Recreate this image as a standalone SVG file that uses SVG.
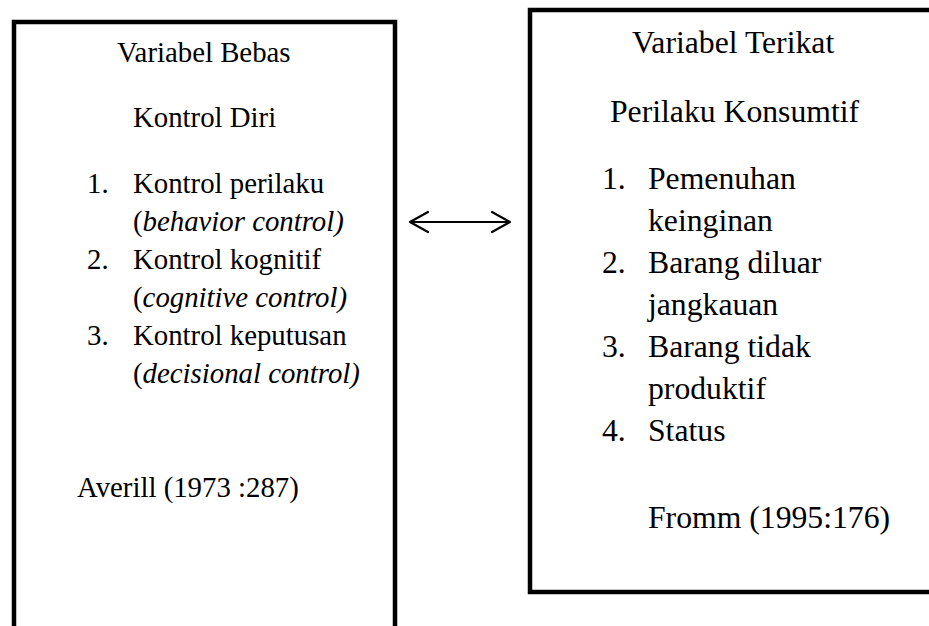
<svg xmlns="http://www.w3.org/2000/svg" width="929" height="626" viewBox="0 0 929 626">
<style>
.box{fill:#fff;stroke:#000;stroke-width:4.5}
.l{font-family:"Liberation Serif","Times New Roman",serif;font-size:28.8px;fill:#000}
.r{font-family:"Liberation Serif","Times New Roman",serif;font-size:31.7px;fill:#000}
.i{font-style:italic}
.conn{fill:none;stroke:#000;stroke-width:2.2;stroke-linecap:round;stroke-linejoin:round}
</style>
<rect width="929" height="626" fill="#fff"/>
<g id="bebas">
<rect class="box" x="14" y="22" width="381" height="700"/>
<text class="l" x="117" y="62">Variabel Bebas</text>
<text class="l" x="133" y="127">Kontrol Diri</text>
<text class="l" x="87" y="193">1.</text>
<text class="l" x="133" y="193">Kontrol perilaku</text>
<text class="l" x="133" y="231">(<tspan class="i">behavior control)</tspan></text>
<text class="l" x="87" y="269">2.</text>
<text class="l" x="133" y="269">Kontrol kognitif</text>
<text class="l" x="133" y="307">(<tspan class="i">cognitive control)</tspan></text>
<text class="l" x="87" y="345">3.</text>
<text class="l" x="133" y="345">Kontrol keputusan</text>
<text class="l" x="133" y="383">(<tspan class="i">decisional control)</tspan></text>
<text class="l" x="77" y="497">Averill (1973 :287)</text>
</g>
<g id="terikat">
<rect class="box" x="530" y="10" width="500" height="582"/>
<text class="r" x="632" y="53">Variabel Terikat</text>
<text class="r" x="610" y="122">Perilaku Konsumtif</text>
<text class="r" x="602" y="189">1.</text>
<text class="r" x="648" y="189">Pemenuhan</text>
<text class="r" x="648" y="231">keinginan</text>
<text class="r" x="602" y="273">2.</text>
<text class="r" x="648" y="273">Barang diluar</text>
<text class="r" x="648" y="315">jangkauan</text>
<text class="r" x="602" y="357">3.</text>
<text class="r" x="648" y="357">Barang tidak</text>
<text class="r" x="648" y="399">produktif</text>
<text class="r" x="602" y="441">4.</text>
<text class="r" x="648" y="441">Status</text>
<text class="r" x="648" y="528">Fromm (1995:176)</text>
</g>
<g id="connectors">
<path class="conn" d="M410 222 H510 M428 212 L410 222 L428 232 M492 212 L510 222 L492 232"/>
</g>
</svg>
